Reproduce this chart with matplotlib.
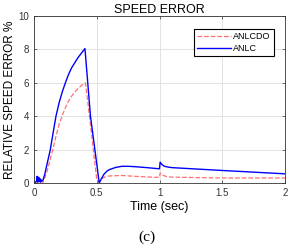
import numpy as np
from matplotlib import pyplot as plt

plt.rcParams['font.family'] = ['Liberation Sans', 'DejaVu Sans']

# ANLC (blue solid)
t_anlc = [0, 0.01, 0.02, 0.025, 0.03, 0.035, 0.04, 0.045, 0.05, 0.055, 0.06, 0.07,
          0.085, 0.1, 0.115, 0.13, 0.15, 0.175, 0.2, 0.225, 0.25, 0.275, 0.3,
          0.325, 0.35, 0.375, 0.406,
          0.45, 0.52, 0.54, 0.56, 0.58, 0.6, 0.65, 0.7, 0.75, 0.8, 0.9, 1.0,
          1.005, 1.02, 1.04, 1.07, 1.1, 1.5, 2.0]
e_anlc = [0, 0.05, 0.1, 0.4, 0.05, 0.35, 0.1, 0.3, 0.05, 0.2, 0.1, 0.15,
          0.5, 1.0, 1.5, 2.0, 2.9, 4.0, 4.8, 5.45, 6.0, 6.5, 6.9,
          7.2, 7.5, 7.75, 8.05,
          4.0, 0.0, 0.3, 0.55, 0.7, 0.8, 0.93, 1.0, 1.0, 0.98, 0.92, 0.85,
          1.25, 1.1, 1.0, 0.95, 0.92, 0.75, 0.55]

# ANLCDO (red dashed)
t_do = [0, 0.07, 0.1, 0.125, 0.15, 0.175, 0.2, 0.225, 0.25, 0.275, 0.3,
        0.325, 0.35, 0.38, 0.41,
        0.45, 0.5, 0.52, 0.54, 0.57, 0.6, 0.7, 0.8, 1.0,
        1.005, 1.03, 1.06, 1.1, 1.5, 2.0]
e_do = [0, 0.0, 0.6, 1.3, 2.0, 2.8, 3.5, 4.05, 4.5, 4.9, 5.2,
        5.45, 5.65, 5.85, 6.0,
        3.5, 0.2, 0.05, 0.25, 0.38, 0.42, 0.45, 0.4, 0.33,
        0.6, 0.45, 0.38, 0.35, 0.3, 0.3]

fig = plt.figure(figsize=(2.93, 2.5), dpi=100)
ax = fig.add_axes([34 / 293, 1 - 183 / 250, 251 / 293, 167 / 250])

ax.plot(t_do, e_do, '--', color='#ff7070', linewidth=0.9, label='ANLCDO')
ax.plot(t_anlc, e_anlc, '-', color='#0000ff', linewidth=1.0, label='ANLC')

ax.set_xlim(0, 2)
ax.set_ylim(0, 10)
ax.set_xticks([0, 0.5, 1, 1.5, 2])
ax.set_xticklabels(['0', '0.5', '1', '1.5', '2'])
ax.set_yticks([0, 2, 4, 6, 8, 10])
ax.tick_params(labelsize=7, length=2, width=0.5, direction='in', colors='#333333',
               top=True, right=True)
ax.grid(True, color='#dddddd', linewidth=0.6)
for s in ax.spines.values():
    s.set_color('#333333')
    s.set_linewidth(0.6)

ax.set_title('SPEED ERROR', fontsize=9, pad=2)
ax.set_xlabel('Time (sec)', fontsize=9, labelpad=2)
ax.set_ylabel('RELATIVE SPEED ERROR %', fontsize=8.5, labelpad=2)

leg = ax.legend(loc='upper right', fontsize=6.5, fancybox=False, framealpha=1,
                edgecolor='black', borderpad=0.4, handlelength=3.8,
                handletextpad=0.2, labelspacing=0.25, bbox_to_anchor=(0.975, 0.95))
leg.get_frame().set_linewidth(0.8)

fig.text(0.5, 1 - 237 / 250, '(c)', ha='center', va='center', fontsize=11,
         family=['Liberation Serif', 'DejaVu Serif'])

fig.savefig('out.png', dpi=100)
